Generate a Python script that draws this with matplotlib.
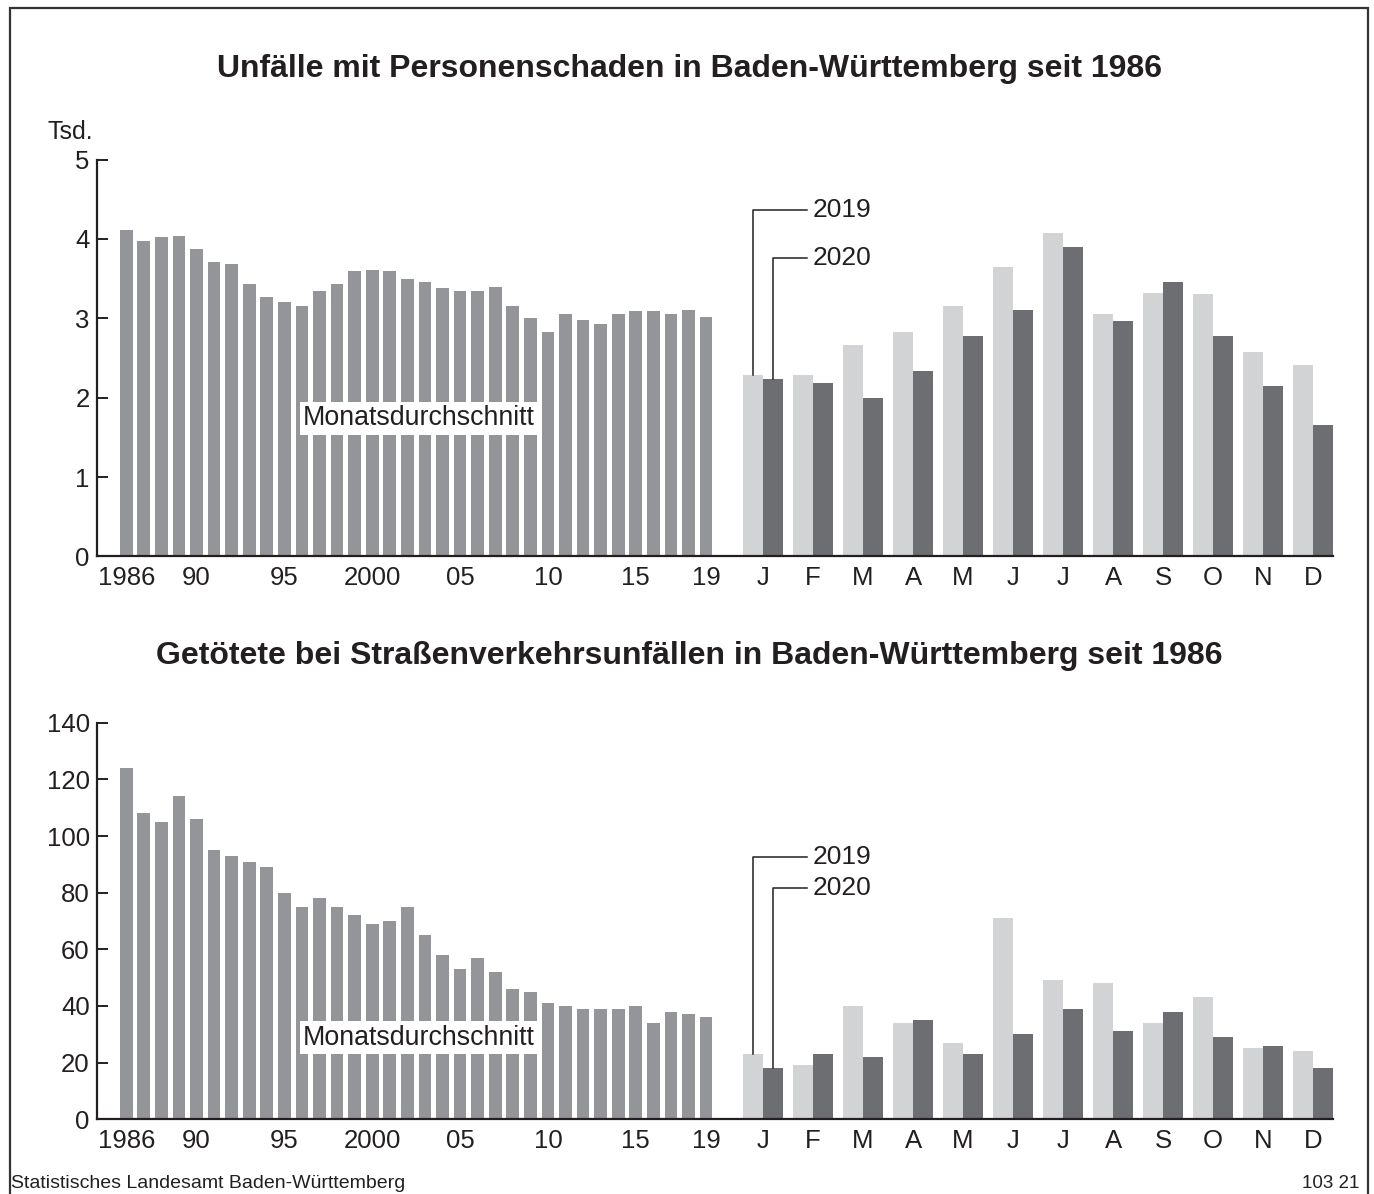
import numpy as np
import matplotlib
matplotlib.use("Agg")
import matplotlib.pyplot as plt
from matplotlib.patches import Rectangle

plt.rcParams['font.family'] = ['Liberation Sans', 'DejaVu Sans']

# --- data ---
years = list(range(1986, 2020))
year_labels = {1986: "1986", 1990: "90", 1995: "95", 2000: "2000",
               2005: "05", 2010: "10", 2015: "15", 2019: "19"}
months = ["J", "F", "M", "A", "M", "J", "J", "A", "S", "O", "N", "D"]

# Unfaelle mit Personenschaden, Monatsdurchschnitt (Tsd.)
unfaelle_jahr = [4.11, 3.97, 4.03, 4.04, 3.87, 3.71, 3.69, 3.43, 3.27, 3.20,
                 3.15, 3.34, 3.43, 3.59, 3.61, 3.60, 3.50, 3.46, 3.38, 3.35,
                 3.34, 3.39, 3.16, 3.00, 2.83, 3.05, 2.98, 2.93, 3.05, 3.09,
                 3.09, 3.06, 3.11, 3.02]
unfaelle_2019 = [2.28, 2.29, 2.67, 2.83, 3.16, 3.65, 4.08, 3.05, 3.32, 3.30, 2.57, 2.41]
unfaelle_2020 = [2.23, 2.18, 1.99, 2.34, 2.78, 3.10, 3.90, 2.96, 3.46, 2.78, 2.15, 1.66]

# Getoetete, Monatsdurchschnitt
getoetete_jahr = [124, 108, 105, 114, 106, 95, 93, 91, 89, 80,
                  75, 78, 75, 72, 69, 70, 75, 65, 58, 53,
                  57, 52, 46, 45, 41, 40, 39, 39, 39, 40,
                  34, 38, 37, 36]
getoetete_2019 = [23, 19, 40, 34, 27, 71, 49, 48, 34, 43, 25, 24]
getoetete_2020 = [18, 23, 22, 35, 23, 30, 39, 31, 38, 29, 26, 18]

# --- colors / layout ---
c_year = "#939598"
c_2019 = "#d1d3d4"
c_2020 = "#6d6e71"
c_text = "#231f20"

W, H = 1374, 1194
fig = plt.figure(figsize=(W / 100, H / 100), dpi=100)

x_year = np.arange(len(years))
x_month = 36.24 + 2.846 * np.arange(12)
bw_year = 0.72
bw_month = 1.155
xlim = (-1.68, 68.66)


def make_axes(y0_px, ytop_px):
    left = 96.7 / W
    width = (1332.7 - 96.7) / W
    bottom = 1 - y0_px / H
    height = (y0_px - ytop_px) / H
    return fig.add_axes([left, bottom, width, height])


def draw_panel(ax, jahr, v2019, v2020, ymax, ystep, lab_y, box_y, title, title_y):
    ax.bar(x_year, jahr, width=bw_year, color=c_year, zorder=2)
    ax.bar(x_month - bw_month / 2, v2019, width=bw_month, color=c_2019, zorder=2)
    ax.bar(x_month + bw_month / 2, v2020, width=bw_month, color=c_2020, zorder=2)

    ax.set_xlim(*xlim)
    ax.set_ylim(0, ymax)
    ax.set_yticks(np.arange(0, ymax + 0.01, ystep))
    ax.set_yticklabels([f"{v:g}" for v in np.arange(0, ymax + 0.01, ystep)])

    ticks = [x_year[years.index(y)] for y in year_labels] + list(x_month)
    labels = list(year_labels.values()) + months
    ax.set_xticks(ticks)
    ax.set_xticklabels(labels)

    for s in ["top", "right"]:
        ax.spines[s].set_visible(False)
    for s in ["left", "bottom"]:
        ax.spines[s].set_color(c_text)
        ax.spines[s].set_linewidth(1.6)
    ax.tick_params(axis="x", length=0, pad=7, labelsize=18.5, labelcolor=c_text)
    ax.tick_params(axis="y", direction="in", length=8, width=1.4, color=c_text,
                   pad=5, labelsize=18.5, labelcolor=c_text)

    # leader lines 2019 / 2020
    xl = x_month[0] - bw_month / 2
    xd = x_month[0] + bw_month / 2
    x_end = x_month[0] + 2.49
    for xv, top, ly, txt in [(xl, v2019[0], lab_y[0], "2019"),
                             (xd, v2020[0], lab_y[1], "2020")]:
        ax.plot([xv, xv, x_end], [top, ly, ly], color=c_text, lw=1.1, zorder=3)
        ax.text(x_end + 0.35, ly, txt, fontsize=19, color=c_text,
                va="center", ha="left")

    ax.text(16.65, box_y, "Monatsdurchschnitt", fontsize=19.3, color=c_text,
            ha="center", va="center", zorder=4,
            bbox=dict(boxstyle="square,pad=0.12", fc="white", ec="none"))

    fig.text(0.502, 1 - title_y / H, title, fontsize=23, fontweight="bold",
             color=c_text, ha="center", va="center")


ax1 = make_axes(556.5, 159.5)
draw_panel(ax1, unfaelle_jahr, unfaelle_2019, unfaelle_2020, 5, 1,
           (4.36, 3.76), 1.74,
           "Unfälle mit Personenschaden in Baden-Württemberg seit 1986", 69)
fig.text(48 / W, 1 - 132 / H, "Tsd.", fontsize=18, color=c_text,
         ha="left", va="center")

ax2 = make_axes(1119.3, 722.7)
draw_panel(ax2, getoetete_jahr, getoetete_2019, getoetete_2020, 140, 20,
           (92.7, 81.8), 28.8,
           "Getötete bei Straßenverkehrsunfällen in Baden-Württemberg seit 1986", 656)

fig.text(11 / W, 1 - 1184 / H, "Statistisches Landesamt Baden-Württemberg",
         fontsize=14, color=c_text, ha="left", va="center")
fig.text(1359 / W, 1 - 1184 / H, "103 21", fontsize=13.5, color=c_text,
         ha="right", va="center")

# outer frame
fig.patches.append(Rectangle((10 / W, -0.01), (1368 - 10) / W, 1.01 - 8 / H,
                             transform=fig.transFigure, fill=False,
                             ec="#333333", lw=1.6))

fig.savefig("out.png", dpi=100)
